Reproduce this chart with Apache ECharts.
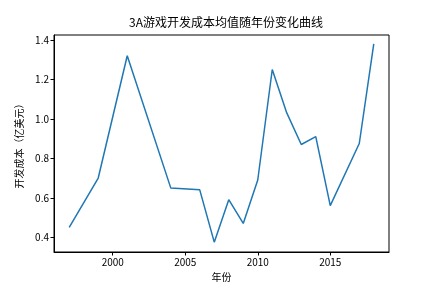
<!DOCTYPE html>
<html><head><meta charset="utf-8">
<script src="https://cdn.jsdelivr.net/npm/echarts@6/dist/echarts.min.js"></script>
<style>html,body{margin:0;padding:0;background:#fff}#c{width:432px;height:288px}</style>
</head><body><div id="c"></div>
<script>
var years = [1997, 1999, 2001, 2004, 2006, 2007, 2008, 2009, 2010, 2011, 2012, 2013, 2014, 2015, 2017, 2018];
var costs = [0.45, 0.70, 1.32, 0.65, 0.64, 0.375, 0.59, 0.47, 0.69, 1.25, 1.03, 0.87, 0.91, 0.56, 0.875, 1.38];
var xTicks = [2000, 2005, 2010, 2015];
var yTicks = [0.4, 0.6, 0.8, 1.0, 1.2, 1.4];
var title = '3A游戏开发成本均值随年份变化曲线';
var xName = '年份';
var yName = '开发成本（亿美元）';

var font = "'Noto Sans CJK SC', 'DejaVu Sans', sans-serif";
var chart = echarts.init(document.getElementById('c'), null, {renderer: 'canvas'});
chart.setOption({
  animation: false,
  backgroundColor: '#fff',
  title: {text: title, left: 221, top: 11, textAlign: 'center',
    textStyle: {fontFamily: font, fontSize: 12, fontWeight: 'normal', color: '#000'}},
  grid: {left: 54, right: 43, top: 35, bottom: 36, show: true, borderColor: '#000', borderWidth: 1},
  xAxis: {type: 'value', min: 1995.95, max: 2019.05,
    name: xName, nameLocation: 'middle', nameGap: 19,
    nameTextStyle: {fontFamily: font, fontSize: 10, color: '#000'},
    axisLine: {show: true, lineStyle: {color: '#000', width: 1}},
    axisTick: {show: true, length: 3.5, lineStyle: {color: '#000'}, customValues: xTicks},
    axisLabel: {fontFamily: font, fontSize: 10, color: '#000', margin: 5, customValues: xTicks,
      formatter: function (v) { return String(v); }},
    splitLine: {show: false}},
  yAxis: {type: 'value', min: 0.325, max: 1.425,
    name: yName, nameLocation: 'middle', nameGap: 27, nameRotate: 90,
    nameTextStyle: {fontFamily: font, fontSize: 10, color: '#000'},
    axisLine: {show: true, lineStyle: {color: '#000', width: 1}},
    axisTick: {show: true, length: 3.5, lineStyle: {color: '#000'}, customValues: yTicks},
    axisLabel: {fontFamily: font, fontSize: 10, color: '#000', margin: 5, customValues: yTicks,
      formatter: function (v) { return v.toFixed(1); }},
    splitLine: {show: false}},
  series: [{type: 'line', data: years.map(function (y, i) { return [y, costs[i]]; }),
    showSymbol: false, lineStyle: {color: '#1f77b4', width: 1.5}, itemStyle: {color: '#1f77b4'}}]
});
</script></body></html>
